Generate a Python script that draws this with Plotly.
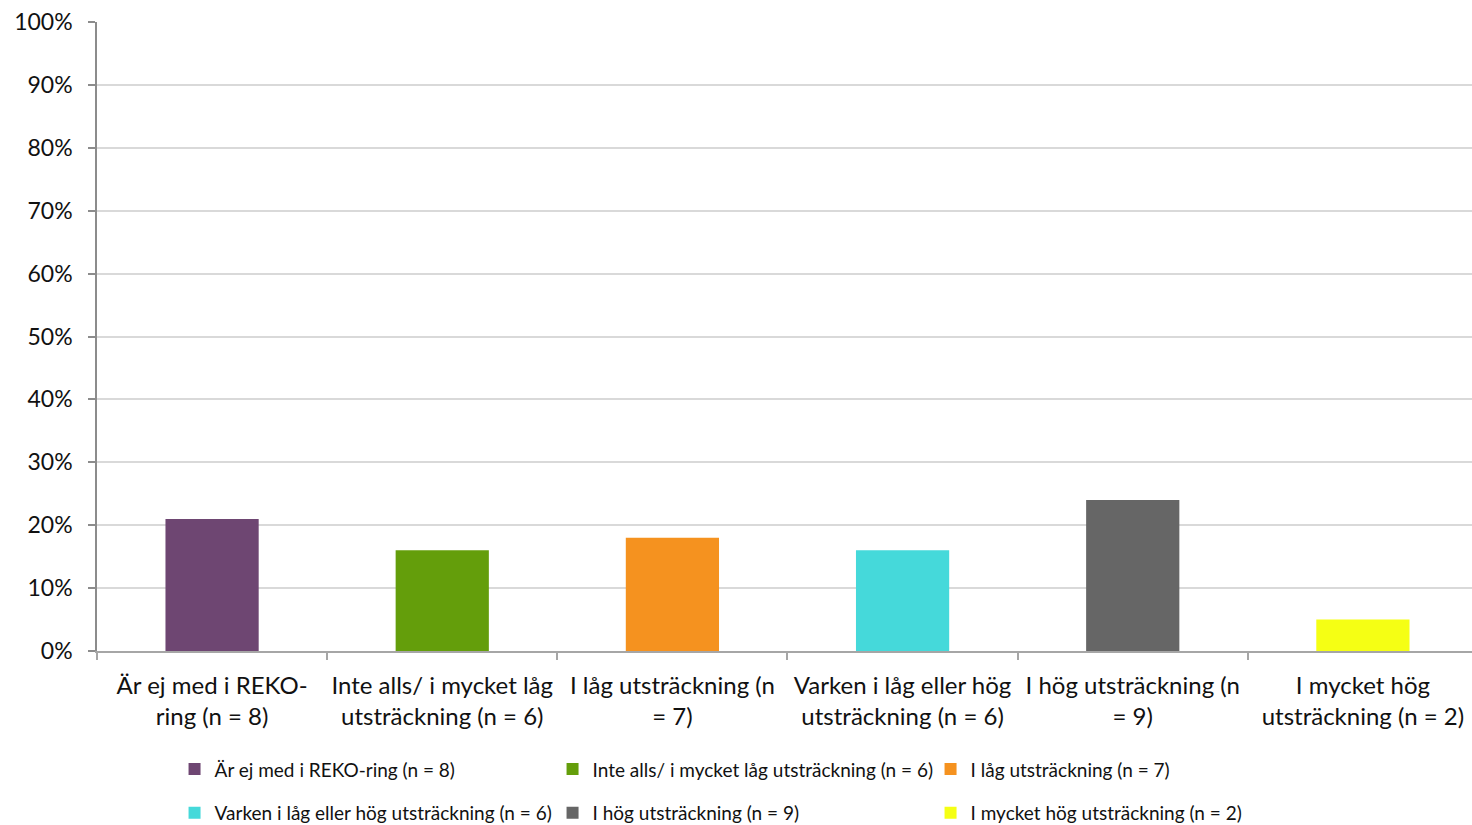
import plotly.graph_objects as go

# Share of respondents per answer category
categories = [
    "Är ej med i REKO-<br>ring (n = 8)",
    "Inte alls/ i mycket låg<br>utsträckning (n = 6)",
    "I låg utsträckning (n<br>= 7)",
    "Varken i låg eller hög<br>utsträckning (n = 6)",
    "I hög utsträckning (n<br>= 9)",
    "I mycket hög<br>utsträckning (n = 2)",
]
series_names = [
    "Är ej med i REKO-ring (n = 8)",
    "Inte alls/ i mycket låg utsträckning (n = 6)",
    "I låg utsträckning (n = 7)",
    "Varken i låg eller hög utsträckning (n = 6)",
    "I hög utsträckning (n = 9)",
    "I mycket hög utsträckning (n = 2)",
]
values = [0.21, 0.16, 0.18, 0.16, 0.24, 0.05]
colors = ["#6E4672", "#649E0B", "#F5921F", "#45D9DA", "#666666", "#F5FF14"]

FONT = "Lato"
TEXT = "#111111"

fig = go.Figure()
for i, (name, cat, val, col) in enumerate(zip(series_names, categories, values, colors)):
    fig.add_trace(go.Bar(
        x=[cat], y=[val], name=name,
        marker=dict(color=col, line=dict(width=0)),
        width=0.405,
        legend="legend" if i < 3 else "legend2",
        hoverinfo="name+y",
    ))

legend_common = dict(
    orientation="h",
    xanchor="left", yanchor="top",
    font=dict(family=FONT, size=19, color=TEXT),
    entrywidth=333, entrywidthmode="pixels",
    itemwidth=30,
    bgcolor="rgba(0,0,0,0)",
    traceorder="normal",
)

fig.update_layout(
    width=1472, height=825,
    margin=dict(l=97, r=0, t=22, b=174, autoexpand=False),
    plot_bgcolor="white", paper_bgcolor="white",
    barmode="overlay",
    font=dict(family=FONT, color=TEXT),
    legend=dict(x=0.0564, y=-0.1578, **legend_common),
    legend2=dict(x=0.0564, y=-0.2272, **legend_common),
    xaxis=dict(
        type="category",
        categoryorder="array", categoryarray=categories,
        range=[-0.5, 5.474],
        automargin=False,
        tickangle=0,
        ticklabelstandoff=12,
        showline=True, linecolor="#A6A6A6", linewidth=1.5,
        ticks="outside", tickson="boundaries", ticklen=7,
        tickcolor="#A6A6A6", tickwidth=1.5,
        tickfont=dict(family=FONT, size=24, color=TEXT),
        showgrid=False,
    ),
    yaxis=dict(
        range=[0, 1], dtick=0.1, tickformat=".0%",
        automargin=False,
        ticklabelstandoff=11,
        showline=True, linecolor="#8C8C8C", linewidth=1.5,
        ticks="outside", ticklen=7, tickcolor="#8C8C8C", tickwidth=1.5,
        tickfont=dict(family=FONT, size=23, color=TEXT),
        showgrid=True, gridcolor="#D9D9D9", gridwidth=1.5,
        zeroline=False,
    ),
)

fig.write_html("out.html")
